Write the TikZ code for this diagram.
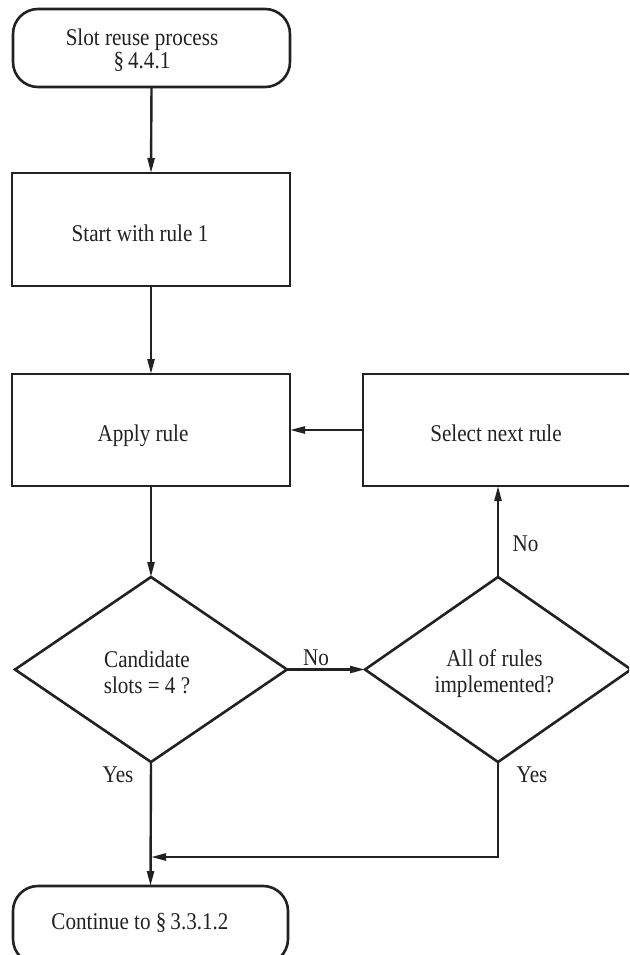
\documentclass[tikz,border=0pt]{standalone}
\usepackage{fontspec}
\setmainfont{Liberation Serif}[FakeStretch=0.88]
\usetikzlibrary{shapes.geometric,arrows.meta}
\definecolor{ink}{HTML}{222222}
\newcommand{\tightlines}[1]{\fontsize{24}{#1}\selectfont\lineskiplimit -50pt\relax}
\tikzset{
  shp/.style={draw=ink, line width=2.6pt, inner sep=0pt, outer sep=0pt},
  term/.style={shp, rectangle, rounded corners=25pt},
  proc/.style={shp, rectangle},
  dec/.style={shp, diamond},
  txt/.style={inner sep=0pt, text=ink, font=\fontsize{24}{26}\selectfont},
  lbl/.style={txt, anchor=base},
  two/.style={txt, align=center, font={\tightlines{#1}}},
  conn/.style={draw=ink, line width=2.4pt, -{Triangle[length=15pt,width=7pt]}}
}
\begin{document}
\begin{tikzpicture}[x=1pt,y=-1pt]
\useasboundingbox (0,0) rectangle (629,955);
\clip (0,0) rectangle (629,955);
\fill[white] (0,0) rectangle (629,955);
% shapes
\node[term, minimum width=277pt, minimum height=78pt] (start) at (151.5,48) {};
\node[proc, minimum width=278pt, minimum height=113pt] (rule1) at (151,229.5) {};
\node[proc, minimum width=278pt, minimum height=112pt] (apply) at (151,430) {};
\node[proc, minimum width=274pt, minimum height=112pt] (select) at (500,430) {};
\node[dec, minimum width=272pt, minimum height=185pt] (dec1) at (151,669.5) {};
\node[dec, minimum width=266pt, minimum height=185pt] (dec2) at (498,669.5) {};
\node[term, minimum width=275pt, minimum height=78pt] (end) at (150.5,925) {};
% texts
\node[two=23] (tstart) at (142,50) {Slot reuse process\\\S\,4.4.1};
\node[lbl] (trule1) at (140,241) {Start with rule 1};
\node[lbl] (tapply) at (143,441) {Apply rule};
\node[lbl] (tselect) at (496,441) {Select next rule};
\node[two=26] (tdec1) at (147,672) {Candidate\\slots = 4 ?};
\node[two=26] (tdec2) at (494.5,674) {All of rules\\implemented?};
\node[lbl] (tend) at (140,929) {Continue to \S\,3.3.1.2};
% connectors
\draw[conn] (start.south) -- (rule1.north);
\draw[conn] (rule1.south) -- (apply.north);
\draw[conn] (apply.south) -- (dec1.north);
\draw[conn] (select.west) -- (apply.east);
\draw[conn] (dec1.east) -- (dec2.west);
\draw[conn] (dec2.north) -- (dec2.north |- select.south);
\draw[conn] (dec1.south) -- (end.north);
\coordinate (join) at (151,857);
\draw[conn] (dec2.south) |- (join);
% labels
\node[lbl] (no1) at (316,665) {No};
\node[lbl] (no2) at (525.5,551) {No};
\node[lbl] (yes1) at (118,782) {Yes};
\node[lbl] (yes2) at (532,782) {Yes};
\end{tikzpicture}
\end{document}
